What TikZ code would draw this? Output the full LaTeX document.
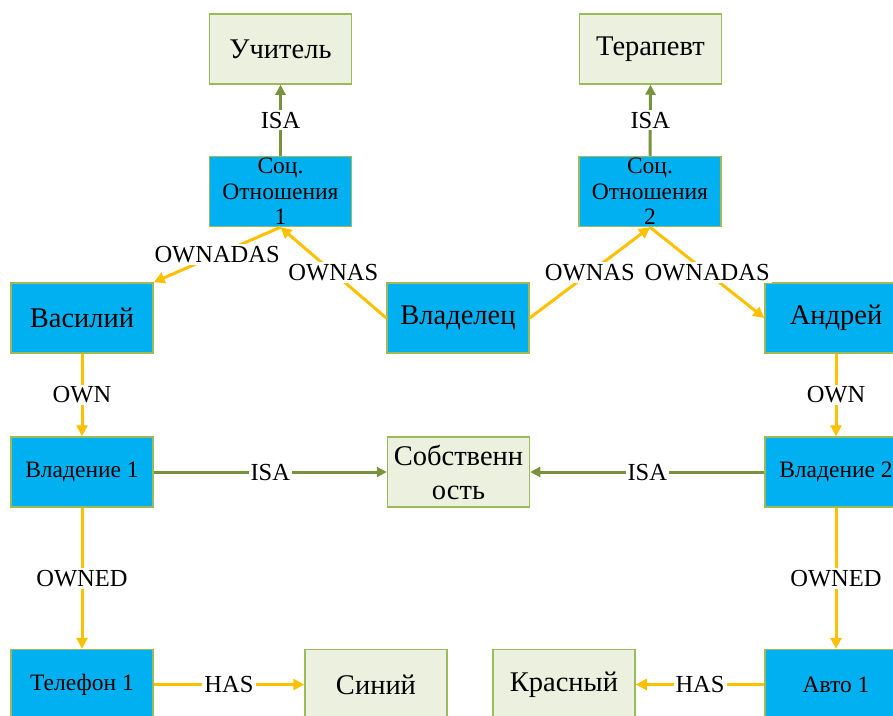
\documentclass[tikz,border=0pt]{standalone}
\usepackage{fontspec}
\setmainfont{Liberation Serif}
\usetikzlibrary{arrows.meta}
\definecolor{boxblue}{HTML}{00B0F0}
\definecolor{boxedge}{HTML}{9BBB59}
\definecolor{paleg}{HTML}{EBF1DE}
\definecolor{linkor}{HTML}{FFC000}
\definecolor{linkgr}{HTML}{77933C}
\begin{document}
\begin{tikzpicture}[x=1pt,y=-1pt,
  base/.style={draw=boxedge, line width=1.5pt, minimum width=142pt, minimum height=70pt,
    inner sep=0pt, align=center, text=black},
  concept/.style={base, fill=paleg, font=\fontsize{28.5}{34}\selectfont},
  inst/.style={base, fill=boxblue, font=\fontsize{28.5}{34}\selectfont},
  instsm/.style={base, fill=boxblue, font=\fontsize{23.5}{25.5}\selectfont},
  orl/.style={draw=linkor, line width=3pt, -{Triangle[length=11pt,width=11pt]}},
  grl/.style={draw=linkgr, line width=3pt, -{Triangle[length=10pt,width=10pt]}},
  lbl/.style={midway, fill=white, inner sep=2pt, font=\fontsize{24.5}{24.5}\selectfont, text=black}]
\useasboundingbox (0,0) rectangle (893,715);
\fill[white] (0,0) rectangle (893,715);
\clip (0,0) rectangle (893,715);

% classes
\node[concept] (uch) at (280.5,49) {Учитель};
\node[concept] (ter) at (650.5,49) {Терапевт};
\node[concept] (sob) at (458.5,472) {Собственн\\ость};
\node[concept] (sin) at (376,684.5) {Синий};
\node[concept] (kr)  at (564,684.5) {Красный};

% instances
\node[instsm] (soc1) at (280.5,191.5) {Соц.\\Отношения\\1};
\node[instsm] (soc2) at (650,191.5) {Соц.\\Отношения\\2};
\node[inst] (vas)  at (82,318) {Василий};
\node[inst] (vld)  at (458,318) {Владелец};
\node[inst] (andr) at (836,318) {Андрей};
\node[instsm] (vl1) at (82,472) {Владение 1};
\node[instsm] (vl2) at (836,472) {Владение 2};
\node[instsm] (tel) at (82,684.5) {Телефон 1};
\node[instsm] (avto) at (836,684.5) {Авто 1};

% ISA links
\draw[grl] (soc1.north) -- node[lbl] {ISA} (uch.south);
\draw[grl] (soc2.north) -- node[lbl] {ISA} (ter.south);
\draw[grl] (vl1.east) -- node[lbl] {ISA} (sob.west);
\draw[grl] (vl2.west) -- node[lbl] {ISA} (sob.east);

% ownership links
\draw[orl] (vld.west) -- node[lbl] {OWNAS} (soc1.south);
\draw[orl] (soc1.south) -- node[lbl] {OWNADAS} (vas.north east);
\draw[orl] (vld.east) -- node[lbl] {OWNAS} (soc2.south);
\draw[orl] (soc2.south) -- node[lbl] {OWNADAS} (andr.west);
\draw[orl] (vas.south) -- node[lbl] {OWN} (vl1.north);
\draw[orl] (andr.south) -- node[lbl] {OWN} (vl2.north);
\draw[orl] (vl1.south) -- node[lbl] {OWNED} (tel.north);
\draw[orl] (vl2.south) -- node[lbl] {OWNED} (avto.north);
\draw[orl] (tel.east) -- node[lbl] {HAS} (sin.west);
\draw[orl] (avto.west) -- node[lbl] {HAS} (kr.east);
\end{tikzpicture}
\end{document}
